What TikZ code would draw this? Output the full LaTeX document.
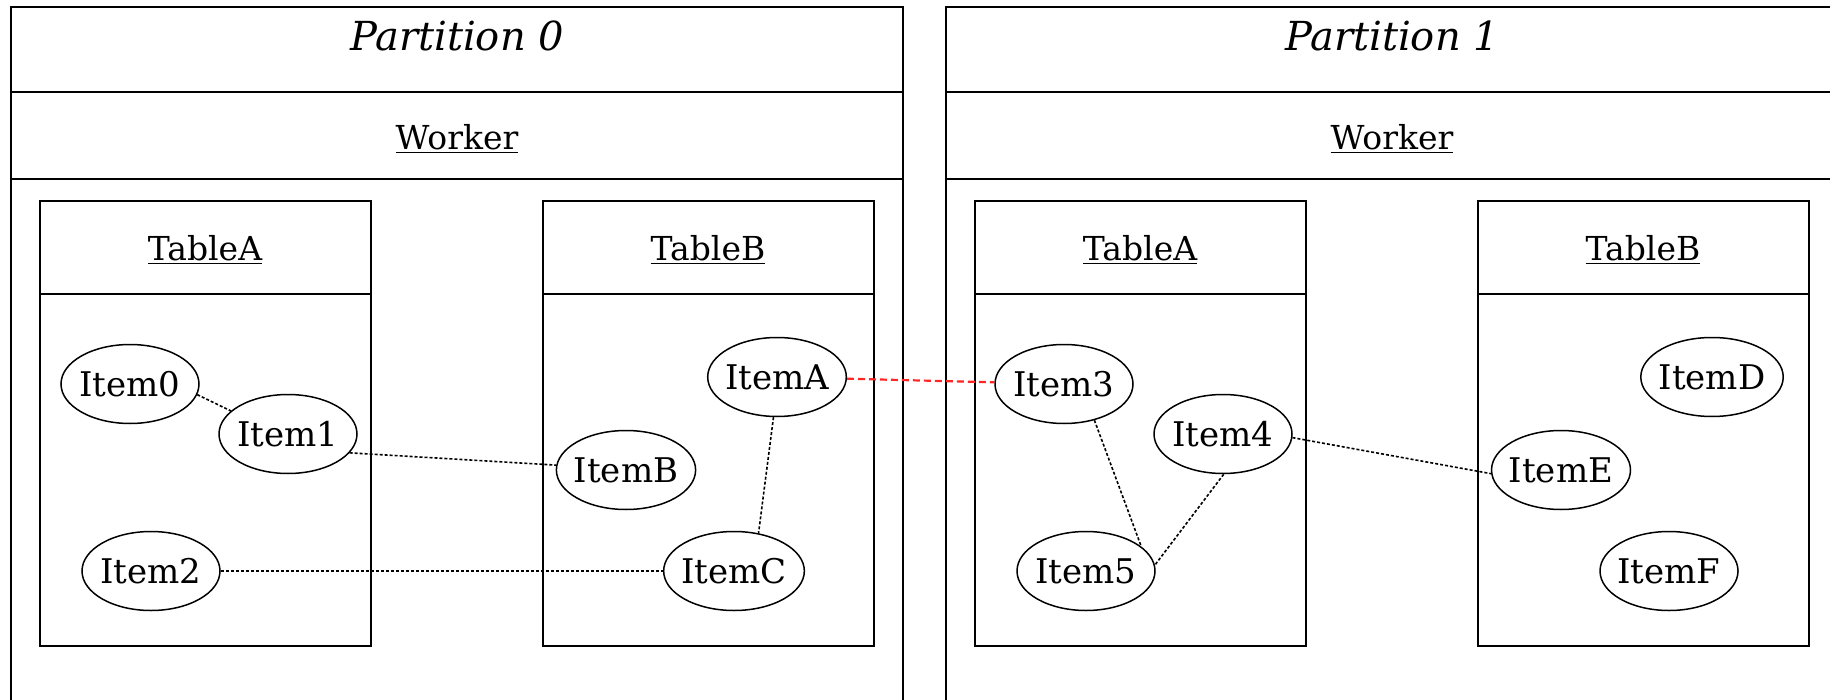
\documentclass[tikz,border=0pt]{standalone}
\usepackage{fontspec}
\setmainfont{DejaVu Serif}
\usetikzlibrary{shapes.geometric}
\tikzset{
    item/.style={draw, ellipse, line width=0.75pt, minimum width=69pt, minimum height=39.5pt, inner ysep=0pt, inner xsep=-1.5pt, font=\fontsize{17}{19}\selectfont},
    link/.style={line width=0.8pt, dash pattern=on 1.5pt off 1pt},
    crosslink/.style={line width=1.1pt, dash pattern=on 3.5pt off 2pt, red!85!white},
    partbox/.style={line width=0.8pt},
    tablebox/.style={line width=0.75pt},
    parttitle/.style={font=\fontsize{20}{24}\selectfont\itshape},
    headtext/.style={font=\fontsize{16.5}{18}\selectfont},
}
\begin{document}
\begin{tikzpicture}[x=0.5pt, y=-0.5pt]
    \useasboundingbox (0,0) rectangle (1830,700) ;
    \clip (0,0) rectangle (1830,700) ;
    % partition 0
    \draw [partbox] (11,7) rectangle (903,720) ;
    \draw [partbox] (11,92) -- (903,92) ;
    \draw [partbox] (11,179) -- (903,179) ;
    \node [parttitle] (title0) at (457,36) {Partition 0} ;
    \node [headtext] (worker0) at (457,139) {\underline{Worker}} ;
    \draw [tablebox] (40,201) rectangle (371,646) ;
    \draw [tablebox] (40,294) -- (371,294) ;
    \node [headtext] (tableA0) at (205,250) {\underline{TableA}} ;
    \draw [tablebox] (543,201) rectangle (874,646) ;
    \draw [tablebox] (543,294) -- (874,294) ;
    \node [headtext] (tableB0) at (708,250) {\underline{TableB}} ;
    \node [item] (item0) at (130,384) {Item0} ;
    \node [item] (item1) at (288,434) {Item1} ;
    \node [item] (item2) at (151,571) {Item2} ;
    \node [item] (itemA) at (777,377) {ItemA} ;
    \node [item] (itemB) at (626,470) {ItemB} ;
    \node [item] (itemC) at (734,571) {ItemC} ;
    % partition 1
    \draw [partbox] (946,7) rectangle (1840,720) ;
    \draw [partbox] (946,92) -- (1840,92) ;
    \draw [partbox] (946,179) -- (1840,179) ;
    \node [parttitle] (title1) at (1392,36) {Partition 1} ;
    \node [headtext] (worker1) at (1392,139) {\underline{Worker}} ;
    \draw [tablebox] (975,201) rectangle (1306,646) ;
    \draw [tablebox] (975,294) -- (1306,294) ;
    \node [headtext] (tableA1) at (1140,250) {\underline{TableA}} ;
    \draw [tablebox] (1478,201) rectangle (1809,646) ;
    \draw [tablebox] (1478,294) -- (1809,294) ;
    \node [headtext] (tableB1) at (1643,250) {\underline{TableB}} ;
    \node [item] (item3) at (1064,384) {Item3} ;
    \node [item] (item4) at (1223,434) {Item4} ;
    \node [item] (item5) at (1086,571) {Item5} ;
    \node [item] (itemD) at (1712,377) {ItemD} ;
    \node [item] (itemE) at (1561,470) {ItemE} ;
    \node [item] (itemF) at (1669,571) {ItemF} ;
    % links
    \draw [link] (item0.-9) -- (item1.158) ;
    \draw [link] (item1.-17) -- (itemB.176) ;
    \draw [link] (item2) -- (itemC) ;
    \draw [link] (itemA.-95) -- (itemC.57) ;
    \draw [link] (item3.-50) -- (item5.24) ;
    \draw [link] (item4.-89) -- (item5.5) ;
    \draw [link] (item4.-3) -- (itemE.183) ;
    \draw [crosslink] (itemA) -- (item3) ;
\end{tikzpicture}
\end{document}
